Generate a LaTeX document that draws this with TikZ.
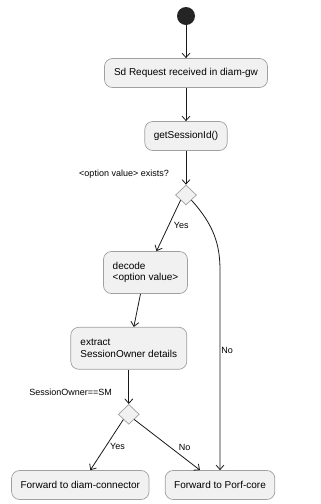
\documentclass[tikz,border=0pt]{standalone}
\usepackage{fontspec}
\setmainfont{Liberation Sans}
\usetikzlibrary{arrows.meta, shapes.geometric}

\definecolor{actfill}{HTML}{F1F1F1}
\definecolor{actline}{HTML}{A0A0A0}
\definecolor{flowcol}{HTML}{181818}

\begin{document}
\begin{tikzpicture}[x=1pt, y=-1pt, >={Straight Barb[length=4.5pt, width=8pt]},
    action/.style={draw=actline, fill=actfill, rounded corners=8pt, line width=0.7pt,
        minimum height=29pt, inner xsep=9pt, font=\fontsize{10}{11.7}\selectfont},
    decision/.style={diamond, draw=actline, fill=actfill, line width=0.7pt,
        minimum width=21pt, minimum height=20pt, inner sep=0pt},
    flow/.style={->, draw=flowcol, line width=0.8pt},
    guard/.style={font=\fontsize{9}{10}\selectfont, inner sep=1pt}]
    % 1. Khung hình
    \useasboundingbox (0, 0) rectangle (321, 504);

    % 2. Điểm bắt đầu và các bước
    \node[circle, fill=flowcol!95, minimum size=18pt, inner sep=0pt] (start) at (186, 16) {};
    \node[action, minimum width=163pt] (recv) at (186, 73) {Sd Request received in diam-gw};
    \node[action, minimum width=82pt] (sid) at (186, 136) {getSessionId()};

    % Điều kiện thứ nhất
    \node[decision] (optq) at (186, 195) {};
    \node[guard, anchor=east] (optlbl) at (170, 174) {<option value> exists?};

    \node[action, align=left, minimum width=84pt, minimum height=42pt] (decode) at (145.5, 272.5)
        {decode\\<option value>};
    \node[action, align=left, minimum width=116pt, minimum height=42pt] (extract) at (128.8, 348.3)
        {extract\\SessionOwner details};

    % Điều kiện thứ hai
    \node[decision] (ownq) at (128.8, 414.3) {};
    \node[guard, anchor=east] (ownlbl) at (113, 392.3) {SessionOwner==SM};

    % 3. Các bước cuối
    \node[action, minimum width=137pt] (fwdconn) at (80.3, 485) {Forward to diam-connector};
    \node[action, minimum width=109pt] (fwdcore) at (220, 485) {Forward to Porf-core};

    % 4. Các mũi tên
    \draw[flow] (start) -- (recv);
    \draw[flow] (recv) -- (sid);
    \draw[flow] (sid) -- (optq);
    \draw[flow] (optq.south west) -- node[guard, pos=0.5, right=4pt] {Yes} ([xshift=11pt]decode.north);
    \draw[flow] (optq.south east) .. controls (214, 225) and (220, 245) .. (220, 270)
        -- node[guard, pos=0.4, right] {No} (fwdcore.north);
    \draw[flow] ([xshift=-5pt]decode.south) -- ([xshift=5pt]extract.north);
    \draw[flow] (extract) -- (ownq);
    \draw[flow] (ownq.south west) -- node[guard, pos=0.53, right=3pt] {Yes} ([xshift=10pt]fwdconn.north);
    \draw[flow] (ownq.south east) -- node[guard, pos=0.55, right=7pt] {No} ([xshift=-20pt]fwdcore.north);

\end{tikzpicture}
\end{document}
